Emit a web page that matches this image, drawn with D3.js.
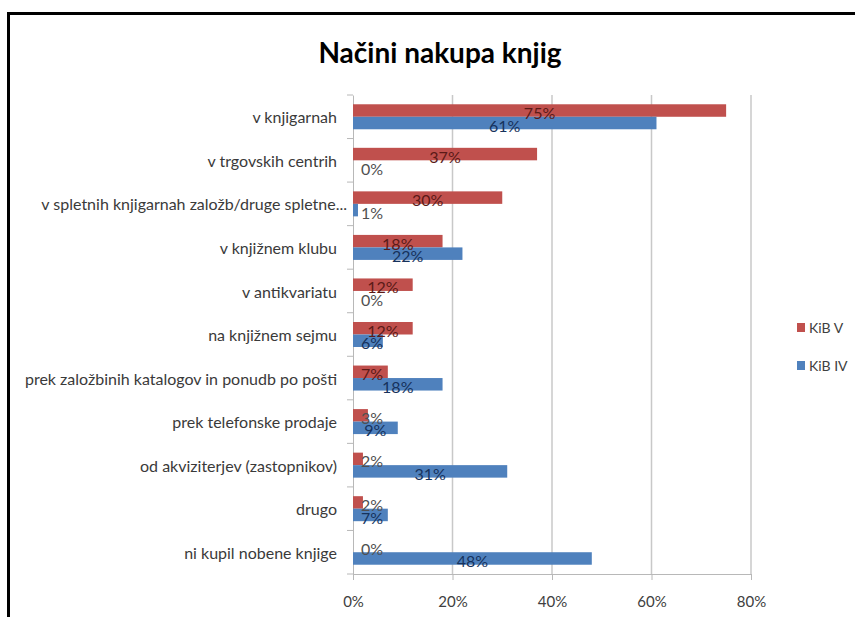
<!DOCTYPE html>
<html>
<head>
<meta charset="utf-8">
<script src="https://cdn.jsdelivr.net/npm/d3@7"></script>
<style>
  body { margin: 0; background: #fff; }
  text { font-family: Lato, "Open Sans", sans-serif; }
</style>
</head>
<body>
<svg id="chart"></svg>
<script>
var width = 855,
    height = 617;

// data
var categories = [
    "v knjigarnah",
    "v trgovskih centrih",
    "v spletnih knjigarnah založb/druge spletne...",
    "v knjižnem klubu",
    "v antikvariatu",
    "na knjižnem sejmu",
    "prek založbinih katalogov in ponudb po pošti",
    "prek telefonske prodaje",
    "od akviziterjev (zastopnikov)",
    "drugo",
    "ni kupil nobene knjige"
];
var kibV  = [75, 37, 30, 18, 12, 12, 7, 3, 2, 2, 0];
var kibIV = [61, 0, 1, 22, 0, 6, 18, 9, 31, 7, 48];
var seriesNames = ["KiB V", "KiB IV"];
var xTicks = [0, 20, 40, 60, 80];

var colors = ["#c0504d", "#4f81bd"],
    labelColors = ["#5b1a17", "#16325c"];

var margin = {left: 353, right: 104, top: 95, bottom: 43};

var svg = d3.select("#chart")
    .attr("width", width)
    .attr("height", height);

// frame around the chart
svg.append("rect")
    .attr("x", 8.5)
    .attr("y", 13.5)
    .attr("width", 900)
    .attr("height", 700)
    .attr("fill", "none")
    .attr("stroke", "#000")
    .attr("stroke-width", 3);

svg.append("text")
    .attr("x", 440)
    .attr("y", 63)
    .attr("text-anchor", "middle")
    .style("font-size", "28px")
    .style("font-weight", "bold")
    .style("fill", "#000")
    .text("Načini nakupa knjig");

var x = d3.scaleLinear()
    .domain([0, 80])
    .range([margin.left, width - margin.right]);

var y = d3.scaleBand()
    .domain(categories)
    .range([margin.top, height - margin.bottom]);

var inner = d3.scaleBand()
    .domain([0, 1])
    .range([0, 25])
    .paddingInner(0);

var groupOffset = (y.bandwidth() - 25) / 2;

// gridlines
svg.append("g")
    .selectAll("line")
    .data(xTicks.slice(1))
    .enter().append("line")
    .attr("x1", function (d) { return x(d); })
    .attr("x2", function (d) { return x(d); })
    .attr("y1", margin.top)
    .attr("y2", height - margin.bottom)
    .attr("stroke", "#c8c8c8")
    .attr("stroke-width", 1.5);

var xAxis = svg.append("g")
    .attr("transform", "translate(0," + (height - margin.bottom) + ")")
    .call(d3.axisBottom(x).tickValues(xTicks).tickSize(6).tickFormat(function (d) { return d + "%"; }));
xAxis.select(".domain").attr("stroke", "#b8b8b8");
xAxis.selectAll(".tick line").attr("stroke", "#b8b8b8");
xAxis.selectAll("text")
    .attr("y", 22)
    .style("font-size", "15px")
    .style("fill", "#404040");

var yAxis = svg.append("g")
    .attr("transform", "translate(" + margin.left + ",0)")
    .call(d3.axisLeft(y).tickSize(0).tickFormat(""));
yAxis.select(".domain").attr("stroke", "#b8b8b8");

// ticks between the categories
svg.append("g")
    .selectAll("line")
    .data(d3.range(categories.length + 1))
    .enter().append("line")
    .attr("x1", margin.left - 6)
    .attr("x2", margin.left)
    .attr("y1", function (i) { return margin.top + i * y.step(); })
    .attr("y2", function (i) { return margin.top + i * y.step(); })
    .attr("stroke", "#b8b8b8");

svg.append("g")
    .selectAll("text")
    .data(categories)
    .enter().append("text")
    .attr("x", function (d) { return d.slice(-3) === "..." ? 347 : 337; })
    .attr("y", function (d) { return y(d) + y.bandwidth() / 2 + 1; })
    .attr("dy", "0.35em")
    .attr("text-anchor", "end")
    .style("font-size", "16px")
    .style("fill", "#3a3a3a")
    .text(function (d) { return d; });

var rows = [];
categories.forEach(function (c, i) {
    rows.push({cat: c, s: 0, v: kibV[i]});
    rows.push({cat: c, s: 1, v: kibIV[i]});
});

svg.append("g")
    .selectAll("rect")
    .data(rows)
    .enter().append("rect")
    .attr("x", x(0))
    .attr("y", function (d) { return y(d.cat) + groupOffset + inner(d.s); })
    .attr("width", function (d) { return x(d.v) - x(0); })
    .attr("height", inner.bandwidth())
    .attr("fill", function (d) { return colors[d.s]; });

// data labels, centred on the bar
function labelX(d) {
    return Math.max((x(d.v) + x(0)) / 2, x(0) + 19);
}

svg.append("g")
    .selectAll("text")
    .data(rows)
    .enter().append("text")
    .attr("x", labelX)
    .attr("y", function (d) { return y(d.cat) + groupOffset + inner(d.s) + inner.bandwidth() / 2 + 3; })
    .attr("dy", "0.35em")
    .attr("text-anchor", "middle")
    .style("font-size", "16px")
    .style("fill", function (d) {
        return x(d.v) >= labelX(d) + 8 ? labelColors[d.s] : "#505050";
    })
    .text(function (d) { return d.v + "%"; });

// legend
var legend = svg.append("g")
    .selectAll("g")
    .data(seriesNames)
    .enter().append("g")
    .attr("transform", function (d, i) { return "translate(797," + (323 + i * 38) + ")"; });
legend.append("rect")
    .attr("width", 8)
    .attr("height", 9)
    .attr("fill", function (d, i) { return colors[i]; });
legend.append("text")
    .attr("x", 12)
    .attr("y", 5)
    .attr("dy", "0.35em")
    .style("font-size", "14px")
    .style("fill", "#404040")
    .text(function (d) { return d; });
</script>
</body>
</html>
